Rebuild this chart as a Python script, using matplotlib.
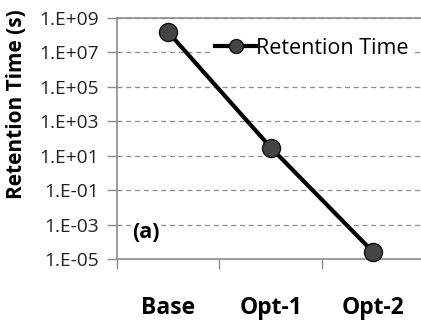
import matplotlib
matplotlib.use("Agg")
import matplotlib.pyplot as plt
from matplotlib.ticker import FixedLocator, FuncFormatter, NullFormatter
from matplotlib.lines import Line2D
import numpy as np

categories = ["Base", "Opt-1", "Opt-2"]
retention = [1.5e8, 3.0e1, 2.5e-5]
yticks = [1e-5, 1e-3, 1e-1, 1e1, 1e3, 1e5, 1e7, 1e9]

plt.rcParams['font.family'] = ['Open Sans', 'DejaVu Sans']

fig = plt.figure(figsize=(4.21, 3.2), dpi=100)
ax = fig.add_axes([117/421, 1-259/320, 307.5/421, 241/320])

x = np.arange(len(categories)) + 0.5
ax.set_yscale('log')
ax.set_ylim(1e-5, 1e9)
ax.set_xlim(0, 3)

ax.yaxis.set_major_locator(FixedLocator(yticks))
ax.yaxis.set_minor_locator(FixedLocator([]))
def fmt(v, pos):
    e = int(round(np.log10(v)))
    s = '+' if e >= 0 else '-'
    return f"1.E{s}{abs(e):02d}"
ax.yaxis.set_major_formatter(FuncFormatter(fmt))

ax.grid(axis='y', which='major', linestyle=(0, (4, 3)), color='#8c8c8c', linewidth=0.9)
ax.set_axisbelow(True)

ax.plot(x, retention, color='black', linewidth=3, marker='o', markersize=13,
        markerfacecolor='#444444', markeredgecolor='#111111', markeredgewidth=1,
        zorder=3, clip_on=False)

ax.xaxis.set_major_locator(FixedLocator([0, 1, 2, 3]))
ax.xaxis.set_major_formatter(NullFormatter())
ax.xaxis.set_minor_locator(FixedLocator(list(x)))
ax.xaxis.set_minor_formatter(FuncFormatter(lambda v, p: categories[int(v)]))
ax.tick_params(axis='x', which='major', length=7, color='#8c8c8c', width=1)
ax.tick_params(axis='x', which='minor', length=0, pad=27, labelsize=16.5)
for lbl in ax.get_xticklabels(minor=True):
    lbl.set_fontweight('bold')
ax.tick_params(axis='y', which='major', length=7, color='#8c8c8c', width=1, labelsize=13.8, pad=6)
for lbl in ax.get_yticklabels():
    lbl.set_color('#222222')

for side in ['left', 'bottom', 'top']:
    ax.spines[side].set_color('#8c8c8c')
    ax.spines[side].set_linewidth(1.2)
ax.spines['right'].set_visible(False)

ax.set_ylabel('Retention Time (s)', fontsize=15, fontweight='bold')
ax.yaxis.set_label_coords(27/421, 1-104/320, transform=fig.transFigure)

ax.text(0.05, 0.112, '(a)', transform=ax.transAxes, fontsize=15.5, fontweight='bold',
        va='center', ha='left', bbox=dict(facecolor='white', edgecolor='none', pad=1))

handle = Line2D([], [], color='black', linewidth=3, marker='o', markersize=10,
                markerfacecolor='#444444', markeredgecolor='#111111', markeredgewidth=1)
leg = ax.legend([handle], ['Retention Time'], loc='center right',
                bbox_to_anchor=(412/421, 1-48/320), bbox_transform=fig.transFigure,
                frameon=True, fontsize=15.5,
                handlelength=1.9, handletextpad=0.0, borderpad=0.15, borderaxespad=0)
leg.get_frame().set_edgecolor('none')
leg.get_frame().set_facecolor('white')
leg.get_frame().set_alpha(1)

fig.savefig('out.png', dpi=100)
